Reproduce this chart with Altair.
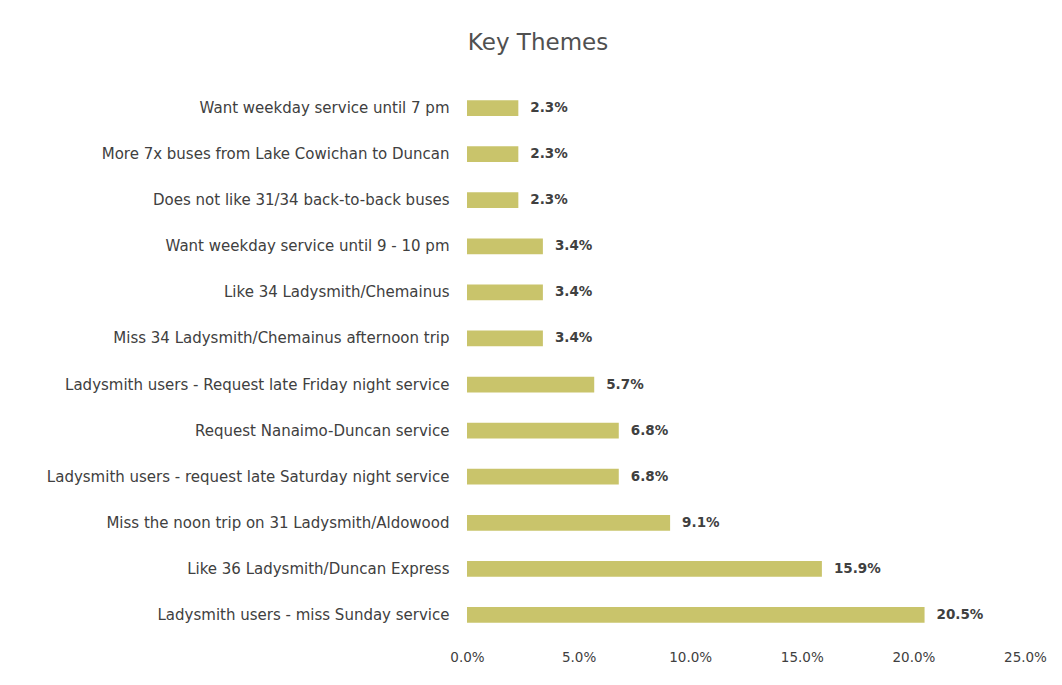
import altair as alt
import pandas as pd

themes = [
    "Want weekday service until 7 pm",
    "More 7x buses from Lake Cowichan to Duncan",
    "Does not like 31/34 back-to-back buses",
    "Want weekday service until 9 - 10 pm",
    "Like 34 Ladysmith/Chemainus",
    "Miss 34 Ladysmith/Chemainus afternoon trip",
    "Ladysmith users - Request late Friday night service",
    "Request Nanaimo-Duncan service",
    "Ladysmith users - request late Saturday night service",
    "Miss the noon trip on 31 Ladysmith/Aldowood",
    "Like 36 Ladysmith/Duncan Express",
    "Ladysmith users - miss Sunday service",
]
shares = [2.3, 2.3, 2.3, 3.4, 3.4, 3.4, 5.7, 6.8, 6.8, 9.1, 15.9, 20.5]
labels = [f"{v:.1f}%" for v in shares]

df = pd.DataFrame({"theme": themes, "share": [v / 100 for v in shares], "label": labels})

FONT = "DejaVu Sans"

y_enc = alt.Y("theme:N", sort=themes, title=None,
              scale=alt.Scale(paddingInner=0.66, paddingOuter=0.33),
              axis=alt.Axis(domain=False, ticks=False, labelPadding=18,
                            labelFontSize=15, labelColor="#404040", labelFont=FONT,
                            labelLimit=460))
x_enc = alt.X("share:Q", title=None,
              scale=alt.Scale(domain=[0, 0.25], nice=False),
              axis=alt.Axis(values=[0, 0.05, 0.10, 0.15, 0.20, 0.25], format=".1%",
                            domain=False, ticks=False, grid=False, labelPadding=12,
                            labelFontSize=13.5, labelColor="#404040", labelFont=FONT,
                            labelFlush=False))

bars = alt.Chart(df).mark_bar(color="#C9C46B").encode(x=x_enc, y=y_enc)
text = alt.Chart(df).mark_text(align="left", dx=12, fontSize=13.5, fontWeight="bold",
                               color="#404040", font=FONT).encode(
    x=alt.X("share:Q"), y=alt.Y("theme:N", sort=themes), text="label:N")

chart = (bars + text).properties(
    width=558, height=553,
    title=alt.TitleParams("Key Themes", fontSize=23, font=FONT, fontWeight="normal",
                          color="#505050", dx=-208, offset=30, anchor="middle"),
    autosize=alt.AutoSizeParams(type="none"),
    padding={"left": 467, "top": 85, "right": 37, "bottom": 47},
    background="white",
).configure_view(stroke=None)

chart.save("out.html", embed_options={"renderer": "svg", "actions": False})
